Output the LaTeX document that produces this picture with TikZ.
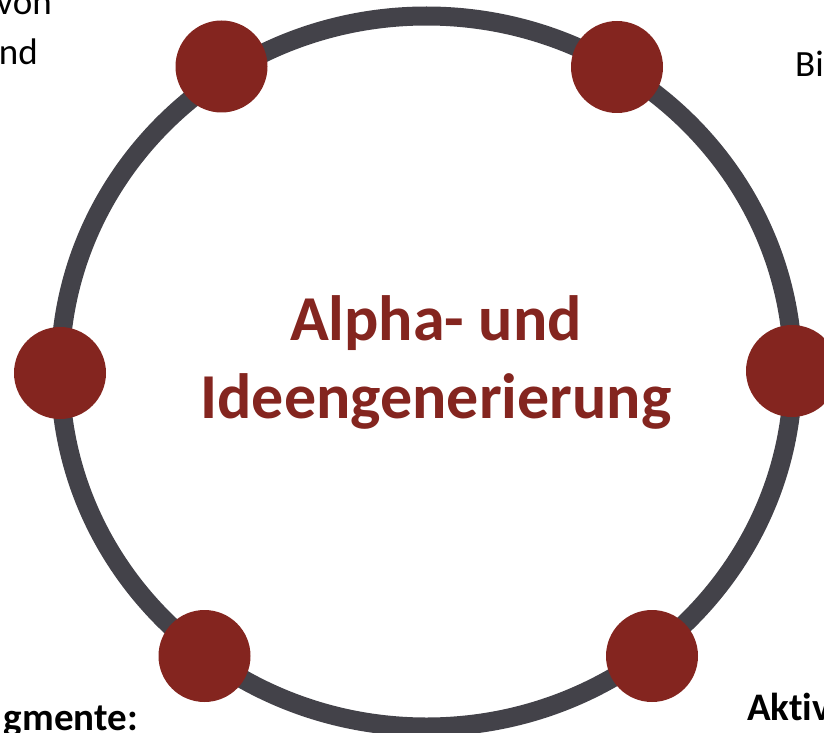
\documentclass[tikz,border=0pt]{standalone}
\usepackage{fontspec}
\setmainfont{Carlito}[Ligatures=NoCommon]
\usepackage{xcolor}
\definecolor{ringgray}{RGB}{67, 66, 73}
\definecolor{beadred}{RGB}{132, 37, 31}

\begin{document}
\begin{tikzpicture}[
  x=1pt, y=-1pt,
  ring/.style={draw=ringgray, line width=19pt},
  bead/.style={circle, fill=beadred, minimum size=92pt, inner sep=0pt},
  headline/.style={text=beadred, font=\fontsize{64}{78}\selectfont\bfseries,
                   align=center},
  sidetext/.style={font=\fontsize{37}{45}\selectfont, inner sep=0pt},
  sidebold/.style={font=\fontsize{39}{47}\selectfont\bfseries, inner sep=0pt}
]
\useasboundingbox (0,0) rectangle (824,733);
\clip (0,0) rectangle (824,733);

\coordinate (mid) at (426.5,371.5);
\draw[ring] (mid) ellipse [x radius=366.5pt, y radius=355.5pt];

\node[bead] (topleft)  at (221.5,66.5) {};
\node[bead] (topright) at (617,67)     {};
\node[bead] (left)     at (60,373)     {};
\node[bead] (right)    at (792,371)    {};
\node[bead] (botleft)  at (204.5,656)  {};
\node[bead] (botright) at (652,656)    {};

\node[headline] (topic) at (436,362) {Alpha- und\\Ideengenerierung};

% cut-off texts at the edges
\node[sidetext, anchor=base east] (von)    at (52,15)   {von};
\node[sidetext, anchor=base east] (nd)     at (38,65)   {nd};
\node[sidetext, anchor=base west] (bi)     at (795,77)  {Bi};
\node[sidebold, anchor=base east] (gmente) at (138,730) {gmente:};
\node[sidebold, anchor=base west] (aktiv)  at (747,720) {Aktiv};

\end{tikzpicture}
\end{document}
